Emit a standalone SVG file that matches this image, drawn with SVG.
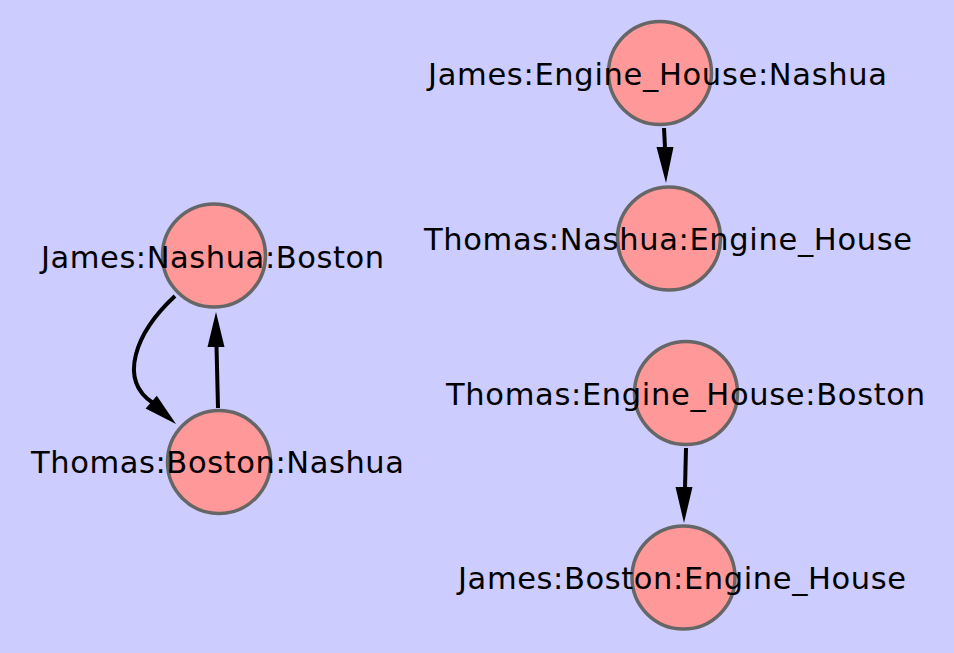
<svg xmlns="http://www.w3.org/2000/svg" width="954" height="653" viewBox="0 0 954 653">
<style>
.node circle{fill:#ff9999;stroke:#666666;stroke-width:3.5}
.node text{font-family:"DejaVu Sans","Liberation Sans",sans-serif;font-size:30.5px;fill:#000;text-anchor:middle}
.edge{fill:none;stroke:#000;stroke-width:4}
.head{fill:#000;stroke:none}
</style>
<rect x="0" y="0" width="954" height="653" fill="#ccccff"/>
<g id="node-james-nashua-boston" class="node">
<circle cx="214" cy="255.5" r="51.5"/>
<text x="212.5" y="268" textLength="343" lengthAdjust="spacing">James:Nashua:Boston</text>
</g>
<g id="node-thomas-boston-nashua" class="node">
<circle cx="219" cy="462" r="51.5"/>
<text x="217.5" y="473" textLength="373" lengthAdjust="spacing">Thomas:Boston:Nashua</text>
</g>
<g id="node-james-enginehouse-nashua" class="node">
<circle cx="660" cy="73" r="51.5"/>
<text x="657.5" y="85" textLength="459" lengthAdjust="spacing">James:Engine_House:Nashua</text>
</g>
<g id="node-thomas-nashua-enginehouse" class="node">
<circle cx="669" cy="238.5" r="51.5"/>
<text x="668" y="250" textLength="488" lengthAdjust="spacing">Thomas:Nashua:Engine_House</text>
</g>
<g id="node-thomas-enginehouse-boston" class="node">
<circle cx="686" cy="393" r="51.5"/>
<text x="685.5" y="405" textLength="479" lengthAdjust="spacing">Thomas:Engine_House:Boston</text>
</g>
<g id="node-james-boston-enginehouse" class="node">
<circle cx="683.5" cy="577.5" r="51.5"/>
<text x="682" y="589" textLength="448" lengthAdjust="spacing">James:Boston:Engine_House</text>
</g>
<g id="connectors">
<path class="edge" d="M175,296 C135,333 118,380 153,403"/>
<polygon class="head" points="176,424 145.6,408.6 156.8,395.8"/>
<path class="edge" d="M218,408 L216.5,346"/>
<polygon class="head" points="216,312 224.5,347 207.5,347"/>
<path class="edge" d="M664,128 L665,148"/>
<polygon class="head" points="666,183 673.5,147 656.5,147"/>
<path class="edge" d="M686,448 L685,488"/>
<polygon class="head" points="684,523 692.5,487 675.5,487"/>
</g>
</svg>
